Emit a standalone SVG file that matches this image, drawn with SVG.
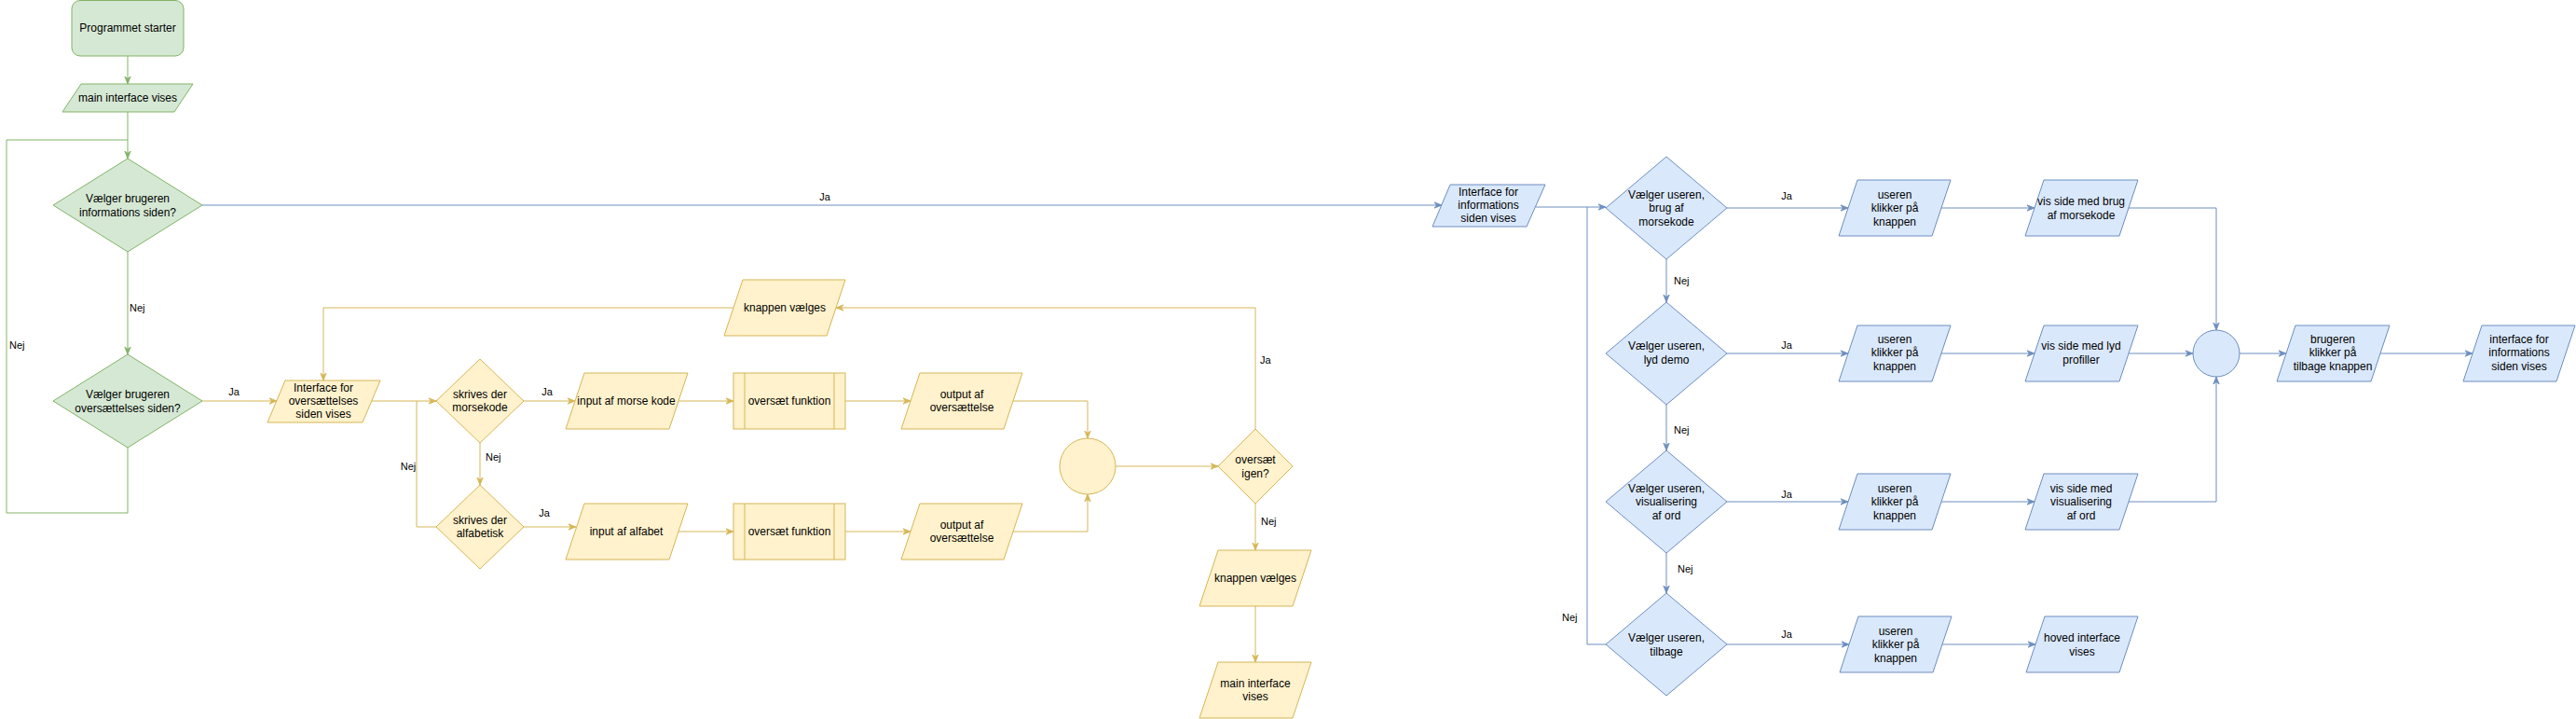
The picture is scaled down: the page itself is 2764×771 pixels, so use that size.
<svg xmlns="http://www.w3.org/2000/svg" width="2764" height="771" viewBox="0 0 2764 771">
<style>
text{font-family:"Liberation Sans",Arial,Helvetica,sans-serif;font-size:12px;fill:#000;text-anchor:middle}
.lbl{font-size:11px}
.st{text-anchor:start}
.g{fill:#d5e8d4;stroke:#82b366;stroke-width:1}
.y{fill:#fff2cc;stroke:#d6b656;stroke-width:1}
.b{fill:#dae8fc;stroke:#6c8ebf;stroke-width:1}
.cg{fill:none;stroke:#82b366;stroke-width:1}
.cy{fill:none;stroke:#d6b656;stroke-width:1}
.cb{fill:none;stroke:#6c8ebf;stroke-width:1}
.ag{marker-end:url(#mg)}
.ay{marker-end:url(#my)}
.ab{marker-end:url(#mb)}
</style>
<defs>
<marker id="mg" viewBox="0 0 10 10" refX="10" refY="5" markerWidth="8" markerHeight="8" markerUnits="userSpaceOnUse" orient="auto"><path d="M0,1 L10,5 L0,9 L3,5 Z" fill="#82b366" stroke="#82b366"/></marker>
<marker id="my" viewBox="0 0 10 10" refX="10" refY="5" markerWidth="8" markerHeight="8" markerUnits="userSpaceOnUse" orient="auto"><path d="M0,1 L10,5 L0,9 L3,5 Z" fill="#d6b656" stroke="#d6b656"/></marker>
<marker id="mb" viewBox="0 0 10 10" refX="10" refY="5" markerWidth="8" markerHeight="8" markerUnits="userSpaceOnUse" orient="auto"><path d="M0,1 L10,5 L0,9 L3,5 Z" fill="#6c8ebf" stroke="#6c8ebf"/></marker>
</defs>
<rect width="2764" height="771" fill="#fff"/>
<g id="connectors">
<path class="cg ag" d="M137,60 V90"/>
<path class="cg ag" d="M137,120 V170"/>
<path class="cg ag" d="M137,270 V380"/>
<path class="cg" d="M137,480 V550 H7 V150 H137"/>
<path class="cb ab" d="M217,220 H1547"/>
<path class="cy ay" d="M217,430 H297"/>
<path class="cy ay" d="M398,430 H468"/>
<path class="cy" d="M447,430 V565 H468"/>
<path class="cy ay" d="M515,475 V520"/>
<path class="cy ay" d="M562,430 H617"/>
<path class="cy ay" d="M562,565 H618"/>
<path class="cy ay" d="M728,430 H787"/>
<path class="cy ay" d="M728,570 H787"/>
<path class="cy ay" d="M907,430 H977"/>
<path class="cy ay" d="M907,570 H977"/>
<path class="cy ay" d="M1087,430 H1167 V470"/>
<path class="cy ay" d="M1087,570 H1167 V530"/>
<path class="cy ay" d="M1197,500 H1307"/>
<path class="cy ay" d="M1347,460 V330 H897"/>
<path class="cy ay" d="M787,330 H347 V408"/>
<path class="cy ay" d="M1347,540 V590"/>
<path class="cy ay" d="M1347,650 V710"/>
<path class="cb ab" d="M1648,222 H1723"/>
<path class="cb" d="M1703,222 V691 H1723"/>
<path class="cb ab" d="M1788,278 V324"/>
<path class="cb ab" d="M1788,434 V483"/>
<path class="cb ab" d="M1788,593 V636"/>
<path class="cb ab" d="M1853,223 H1983"/>
<path class="cb ab" d="M1853,379 H1983"/>
<path class="cb ab" d="M1853,538 H1983"/>
<path class="cb ab" d="M1853,691 H1984"/>
<path class="cb ab" d="M2083,223 H2183"/>
<path class="cb ab" d="M2083,379 H2183"/>
<path class="cb ab" d="M2083,538 H2183"/>
<path class="cb ab" d="M2083,691 H2184"/>
<path class="cb ab" d="M2284,223 H2378 V354"/>
<path class="cb ab" d="M2284,379 H2353"/>
<path class="cb ab" d="M2284,538 H2378 V404"/>
<path class="cb ab" d="M2403,379 H2453"/>
<path class="cb ab" d="M2554,379 H2653"/>
<text class="lbl st" x="139" y="334">Nej</text>
<text class="lbl st" x="10" y="374">Nej</text>
<text class="lbl" x="885" y="215">Ja</text>
<text class="lbl" x="251" y="424">Ja</text>
<text class="lbl" x="438" y="504">Nej</text>
<text class="lbl st" x="521" y="494">Nej</text>
<text class="lbl" x="587" y="424">Ja</text>
<text class="lbl" x="584" y="554">Ja</text>
<text class="lbl st" x="1352" y="390">Ja</text>
<text class="lbl st" x="1353" y="563">Nej</text>
<text class="lbl st" x="1676" y="666">Nej</text>
<text class="lbl st" x="1796" y="305">Nej</text>
<text class="lbl st" x="1796" y="465">Nej</text>
<text class="lbl st" x="1800" y="614">Nej</text>
<text class="lbl" x="1917" y="214">Ja</text>
<text class="lbl" x="1917" y="374">Ja</text>
<text class="lbl" x="1917" y="534">Ja</text>
<text class="lbl" x="1917" y="684">Ja</text>
</g>
<g id="start"><rect class="g" x="77" y="0.5" width="120" height="59.5" rx="9"/><text x="137" y="34">Programmet starter</text></g>
<g id="main-interface"><polygon class="g" points="87,90 207,90 187,120 67,120"/><text x="137" y="109">main interface vises</text></g>
<g id="d-info"><polygon class="g" points="137,170 217,220 137,270 57,220"/><text x="137" y="217">Vælger brugeren</text><text x="137" y="232">informations siden?</text></g>
<g id="d-overs"><polygon class="g" points="137,380 217,430 137,480 57,430"/><text x="137" y="427">Vælger brugeren</text><text x="137" y="442">oversættelses siden?</text></g>
<g id="p-overs"><polygon class="y" points="306,408 408,408 389,453 287,453"/><text x="347" y="420">Interface for</text><text x="347" y="434">oversættelses</text><text x="347" y="448">siden vises</text></g>
<g id="d-morse"><polygon class="y" points="515,385 562,430 515,475 468,430"/><text x="515" y="427">skrives der</text><text x="515" y="441">morsekode</text></g>
<g id="d-alfa"><polygon class="y" points="515,520 562,565 515,610 468,565"/><text x="515" y="562">skrives der</text><text x="515" y="576">alfabetisk</text></g>
<g id="in-morse"><polygon class="y" points="627,400 738,400 718,460 607,460"/><text x="672" y="434">input af morse kode</text></g>
<g id="in-alfa"><polygon class="y" points="627,540 738,540 718,600 607,600"/><text x="672" y="574">input af alfabet</text></g>
<g id="fn1"><rect class="y" x="787" y="400" width="120" height="60"/><path class="cy" d="M799,400 V460 M895,400 V460"/><text x="847" y="434">oversæt funktion</text></g>
<g id="fn2"><rect class="y" x="787" y="540" width="120" height="60"/><path class="cy" d="M799,540 V600 M895,540 V600"/><text x="847" y="574">oversæt funktion</text></g>
<g id="out1"><polygon class="y" points="987,400 1097,400 1077,460 967,460"/><text x="1032" y="427">output af</text><text x="1032" y="441">oversættelse</text></g>
<g id="out2"><polygon class="y" points="987,540 1097,540 1077,600 967,600"/><text x="1032" y="567">output af</text><text x="1032" y="581">oversættelse</text></g>
<g id="join-y"><circle class="y" cx="1167" cy="500" r="30"/></g>
<g id="d-igen"><polygon class="y" points="1347,460 1387,500 1347,540 1307,500"/><text x="1347" y="497">oversæt</text><text x="1347" y="512">igen?</text></g>
<g id="knap1"><polygon class="y" points="797,300 907,300 887,360 777,360"/><text x="842" y="334">knappen vælges</text></g>
<g id="knap2"><polygon class="y" points="1307,590 1407,590 1387,650 1287,650"/><text x="1347" y="624">knappen vælges</text></g>
<g id="main2"><polygon class="y" points="1307,710 1407,710 1387,770 1287,770"/><text x="1347" y="737">main interface</text><text x="1347" y="751">vises</text></g>
<g id="p-info"><polygon class="b" points="1556,198 1658,198 1638,243 1537,243"/><text x="1597" y="210">Interface for</text><text x="1597" y="224">informations</text><text x="1597" y="238">siden vises</text></g>
<g id="db1"><polygon class="b" points="1788,168 1853,223 1788,278 1723,223"/><text x="1788" y="213">Vælger useren,</text><text x="1788" y="227">brug af</text><text x="1788" y="242">morsekode</text></g>
<g id="db2"><polygon class="b" points="1788,324 1853,379 1788,434 1723,379"/><text x="1788" y="375">Vælger useren,</text><text x="1788" y="390">lyd demo</text></g>
<g id="db3"><polygon class="b" points="1788,483 1853,538 1788,593 1723,538"/><text x="1788" y="528">Vælger useren,</text><text x="1788" y="542">visualisering</text><text x="1788" y="557">af ord</text></g>
<g id="db4"><polygon class="b" points="1788,636 1853,691 1788,746 1723,691"/><text x="1788" y="688">Vælger useren,</text><text x="1788" y="703">tilbage</text></g>
<g id="u1"><polygon class="b" points="1993,193 2093,193 2073,253 1973,253"/><text x="2033" y="213">useren</text><text x="2033" y="227">klikker på</text><text x="2033" y="242">knappen</text></g>
<g id="u2"><polygon class="b" points="1993,349 2093,349 2073,409 1973,409"/><text x="2033" y="368">useren</text><text x="2033" y="382">klikker på</text><text x="2033" y="397">knappen</text></g>
<g id="u3"><polygon class="b" points="1993,508 2093,508 2073,568 1973,568"/><text x="2033" y="528">useren</text><text x="2033" y="542">klikker på</text><text x="2033" y="557">knappen</text></g>
<g id="u4"><polygon class="b" points="1994,661 2094,661 2074,721 1974,721"/><text x="2034" y="681">useren</text><text x="2034" y="695">klikker på</text><text x="2034" y="710">knappen</text></g>
<g id="v1"><polygon class="b" points="2193,193 2294,193 2274,253 2173,253"/><text x="2233" y="220">vis side med brug</text><text x="2233" y="235">af morsekode</text></g>
<g id="v2"><polygon class="b" points="2193,349 2294,349 2274,409 2173,409"/><text x="2233" y="375">vis side med lyd</text><text x="2233" y="390">profiller</text></g>
<g id="v3"><polygon class="b" points="2193,508 2294,508 2274,568 2173,568"/><text x="2233" y="528">vis side med</text><text x="2233" y="542">visualisering</text><text x="2233" y="557">af ord</text></g>
<g id="hoved"><polygon class="b" points="2194,661 2294,661 2274,721 2174,721"/><text x="2234" y="688">hoved interface</text><text x="2234" y="703">vises</text></g>
<g id="join-b"><circle class="b" cx="2378" cy="379" r="25"/></g>
<g id="brugeren"><polygon class="b" points="2463,349 2564,349 2544,409 2443,409"/><text x="2503" y="368">brugeren</text><text x="2503" y="382">klikker på</text><text x="2503" y="397">tilbage knappen</text></g>
<g id="info-end"><polygon class="b" points="2663,349 2763,349 2743,409 2643,409"/><text x="2703" y="368">interface for</text><text x="2703" y="382">informations</text><text x="2703" y="397">siden vises</text></g>
</svg>
